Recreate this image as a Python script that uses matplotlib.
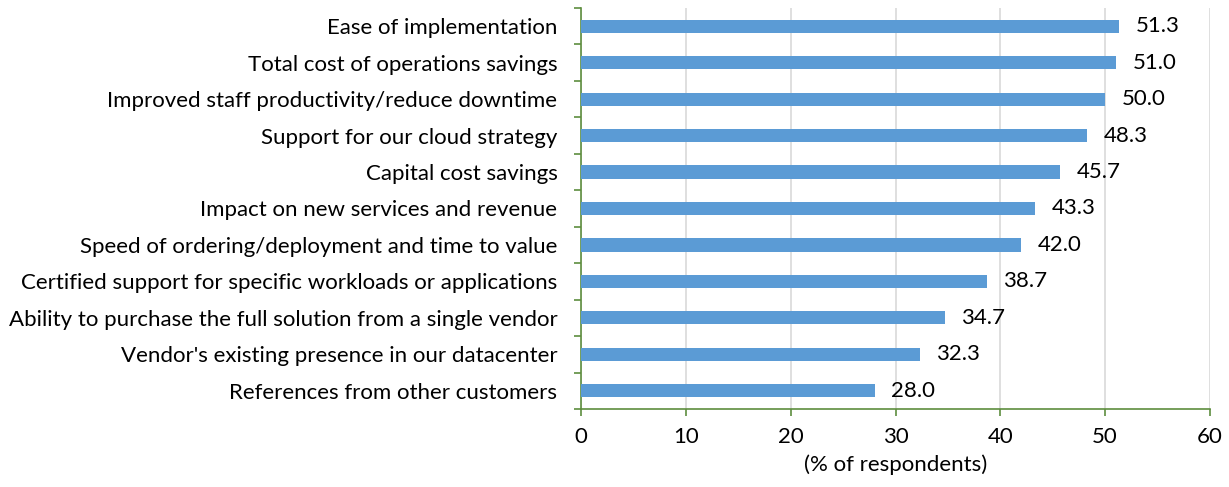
import numpy as np
import matplotlib.pyplot as plt
from matplotlib.ticker import FixedLocator

categories = [
    "Ease of implementation",
    "Total cost of operations savings",
    "Improved staff productivity/reduce downtime",
    "Support for our cloud strategy",
    "Capital cost savings",
    "Impact on new services and revenue",
    "Speed of ordering/deployment and time to value",
    "Certified support for specific workloads or applications",
    "Ability to purchase the full solution from a single vendor",
    "Vendor's existing presence in our datacenter",
    "References from other customers",
]
values = [51.3, 51.0, 50.0, 48.3, 45.7, 43.3, 42.0, 38.7, 34.7, 32.3, 28.0]
xticks = [0, 10, 20, 30, 40, 50, 60]

plt.rcParams['font.family'] = ['Lato', 'DejaVu Sans']

bar_color = '#5B9BD5'
axis_color = '#5E8E3E'
fs = 16

fig = plt.figure(figsize=(12.29, 4.87), dpi=100)
ax = fig.add_axes([581/1229, 1 - 409/487, (1210 - 581)/1229, (409 - 8)/487])

y = np.arange(len(categories))
ax.barh(y, values, height=0.36, color=bar_color, zorder=3)
for yi, v in zip(y, values):
    ax.annotate(f"{v:.1f}", (v, yi), xytext=(12, 0), textcoords='offset points',
                va='center', ha='left', fontsize=fs, color='#000000')

ax.set_ylim(len(categories) - 0.5, -0.5)
ax.set_xlim(0, 60)
ax.set_yticks(y)
ax.set_yticklabels(categories, fontsize=fs)
ax.yaxis.set_minor_locator(FixedLocator(np.arange(-0.5, len(categories), 1)))
ax.tick_params(axis='y', which='major', length=0, pad=17)
ax.tick_params(axis='y', which='minor', length=5, width=1.2, color=axis_color, direction='out')

ax.set_xticks(xticks)
ax.tick_params(axis='x', length=5, width=1.2, color=axis_color, direction='out', pad=8, labelsize=fs)
ax.set_xlabel("(% of respondents)", fontsize=fs, labelpad=5)

ax.grid(axis='x', color='#D9D9D9', linewidth=1.2, zorder=0)
ax.set_axisbelow(True)
for s in ['top', 'right']:
    ax.spines[s].set_visible(False)
for s in ['left', 'bottom']:
    ax.spines[s].set_color(axis_color)
    ax.spines[s].set_linewidth(1.2)

fig.savefig('out.png', dpi=100)
